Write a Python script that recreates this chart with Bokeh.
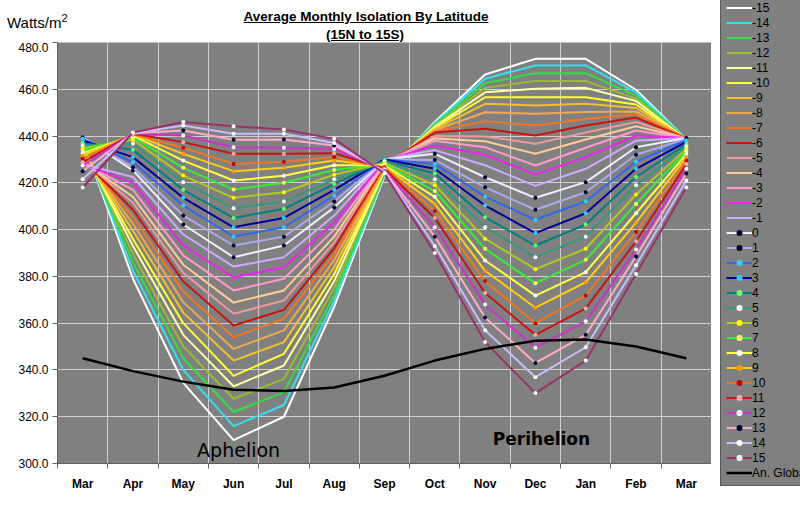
from bokeh.plotting import figure
from bokeh.models import Legend, LegendItem, FixedTicker, Label, Range1d, NumeralTickFormatter, Div
from bokeh.layouts import row, column
from bokeh.embed import file_html
from bokeh.resources import INLINE

months = ["Mar", "Apr", "May", "Jun", "Jul", "Aug", "Sep", "Oct", "Nov", "Dec", "Jan", "Feb", "Mar"]
y_ticks = [300, 320, 340, 360, 380, 400, 420, 440, 460, 480]

# southern latitudes (negative)
s15 = [438.5, 379.0, 334.5, 310.0, 320.0, 367.0, 423.0, 446.0, 466.3, 473.0, 473.0, 459.8, 438.5]
s14 = [438.0, 382.5, 340.0, 316.0, 325.0, 369.5, 423.5, 445.5, 464.5, 470.2, 470.2, 458.7, 438.5]
s13 = [437.0, 386.0, 345.0, 322.0, 330.5, 372.0, 424.0, 445.0, 462.6, 466.9, 466.9, 457.3, 438.5]
s12 = [436.0, 389.5, 350.0, 327.7, 336.2, 375.0, 424.5, 444.5, 460.6, 463.5, 463.5, 456.0, 438.5]
s11 = [435.0, 393.0, 355.0, 333.0, 341.9, 378.0, 425.0, 444.0, 458.7, 460.2, 460.6, 455.0, 438.5]
s10 = [434.0, 396.0, 360.0, 337.5, 346.9, 381.0, 425.5, 443.5, 456.6, 456.6, 456.6, 453.5, 438.5]
s9 = [433.0, 399.5, 364.5, 344.0, 351.9, 384.0, 426.0, 443.0, 453.8, 453.1, 453.8, 452.0, 438.8]
s8 = [432.0, 402.5, 369.0, 349.0, 356.9, 387.0, 426.5, 442.5, 450.2, 449.5, 450.3, 450.5, 438.8]
s7 = [431.0, 405.5, 373.5, 354.0, 361.9, 389.5, 427.0, 442.0, 446.3, 444.5, 447.3, 449.3, 439.0]
s6 = [430.0, 408.5, 377.8, 359.0, 365.7, 392.0, 427.5, 441.5, 443.1, 440.2, 444.5, 447.9, 439.0]
s5 = [429.5, 411.5, 381.5, 364.0, 369.7, 394.5, 428.0, 440.0, 439.8, 436.7, 441.5, 446.0, 439.0]
s4 = [429.0, 414.0, 385.0, 368.8, 374.0, 397.0, 428.5, 439.0, 437.8, 432.4, 438.5, 444.2, 439.0]
s3 = [428.5, 417.0, 389.0, 374.0, 379.0, 400.0, 429.0, 438.0, 435.2, 427.4, 435.0, 442.4, 439.0]
s2 = [428.0, 420.0, 393.2, 379.6, 384.0, 403.0, 429.5, 436.0, 432.0, 423.6, 431.0, 440.2, 439.2]
s1 = [428.0, 422.5, 397.9, 384.2, 388.2, 406.0, 430.0, 434.0, 427.5, 418.7, 426.0, 438.0, 439.2]
# equator and northern latitudes
eq0 = [439.5, 425.3, 402.2, 388.2, 393.2, 409.5, 430.0, 432.4, 422.4, 413.6, 420.3, 435.2, 439.2]
n1 = [439.2, 426.7, 406.0, 393.2, 397.0, 412.0, 430.0, 429.8, 418.1, 408.5, 416.0, 432.0, 438.8]
n2 = [438.8, 428.8, 410.3, 397.0, 401.0, 414.5, 430.0, 428.1, 414.1, 404.2, 412.1, 429.0, 438.2]
n3 = [438.1, 431.0, 413.6, 401.0, 405.0, 417.0, 430.0, 426.0, 410.3, 398.5, 407.0, 426.0, 437.5]
n4 = [436.9, 434.1, 417.0, 405.0, 408.9, 419.5, 429.5, 424.0, 405.3, 393.2, 402.2, 422.5, 436.5]
n5 = [436.0, 436.7, 420.3, 409.1, 412.0, 421.5, 429.0, 421.5, 401.0, 388.2, 397.0, 419.0, 435.5]
n6 = [434.8, 438.4, 423.1, 413.6, 416.0, 423.5, 428.5, 419.0, 396.1, 383.1, 391.8, 415.0, 434.5]
n7 = [433.8, 439.5, 426.4, 417.1, 420.0, 425.5, 428.0, 416.5, 391.8, 377.1, 387.1, 411.0, 433.5]
n8 = [432.7, 440.2, 429.5, 421.0, 423.0, 427.5, 427.5, 414.0, 386.8, 371.8, 381.8, 407.0, 432.3]
n9 = [431.7, 440.6, 432.4, 425.0, 426.4, 429.5, 427.0, 411.0, 382.4, 366.6, 377.5, 403.0, 431.0]
n10 = [430.3, 440.8, 435.0, 428.1, 429.0, 431.0, 426.5, 408.0, 378.0, 360.0, 371.8, 399.0, 429.5]
n11 = [428.8, 441.0, 437.4, 432.4, 432.4, 432.7, 426.0, 405.0, 372.9, 355.0, 366.3, 395.0, 428.0]
n12 = [427.4, 441.0, 440.2, 435.2, 435.0, 434.5, 425.5, 401.0, 368.0, 349.5, 360.8, 391.5, 426.0]
n13 = [425.0, 441.2, 442.4, 438.4, 438.5, 436.0, 425.0, 397.0, 362.4, 343.0, 355.0, 388.5, 424.0]
n14 = [421.5, 441.3, 444.5, 441.0, 441.0, 437.0, 424.5, 393.0, 357.0, 336.9, 349.7, 384.8, 421.0]
n15 = [418.0, 441.5, 446.0, 444.2, 442.8, 438.8, 424.0, 390.0, 351.9, 330.1, 344.0, 381.0, 418.0]
global_avg = [345.0, 339.5, 335.0, 331.5, 331.0, 332.5, 337.5, 344.0, 349.0, 352.5, 353.0, 350.0, 345.0]

labels = [str(v) for v in range(-15, 16)]
series = [s15, s14, s13, s12, s11, s10, s9, s8, s7, s6, s5, s4, s3, s2, s1,
          eq0, n1, n2, n3, n4, n5, n6, n7, n8, n9, n10, n11, n12, n13, n14, n15]

line_colors = ["#ffffff", "#33e0f0", "#33dd44", "#99bb33", "#ffffaa", "#ffff33", "#f0c030",
               "#f0a850", "#ee7722", "#cc1111", "#ee9999", "#ffcc99", "#ff99cc", "#ee22ee", "#ccaaff",
               "#eeeeff", "#aaaaee", "#3366ee", "#000099", "#008080", "#339977", "#aacc22", "#33ee33",
               "#ffff44", "#ffcc11", "#ee7722", "#cc1111", "#cc33cc", "#ffaacc", "#ccbbff", "#993366"]
marker_colors = [None] * 15 + ["#000033", "#000033", "#33ccff", "#33ccff", "#66ff66", "#ffffff",
                               "#ffff00", "#ffff66", "#ffffff", "#ff9900", "#cc0000", "#ffaaaa",
                               "#ffffff", "#000033", "#ffffff", "#ffffff"]

x = list(range(len(months)))
FONT = "Liberation Sans"

# ---------------- main chart ----------------
p = figure(width=711, height=472, output_backend="svg", toolbar_location=None,
           x_range=Range1d(-0.5, len(months) - 0.5), y_range=Range1d(300, 480),
           min_border_left=57, min_border_right=0, min_border_top=0, min_border_bottom=51)
p.background_fill_color = "#808080"
p.border_fill_color = "white"
p.outline_line_color = None

for vals, lc, mc in zip(series, line_colors, marker_colors):
    p.line(x, vals, line_color=lc, line_width=2)
    if mc is not None:
        p.scatter(x, vals, size=4, marker="circle", fill_color=mc, line_color=None)
p.line(x, global_avg, line_color="black", line_width=2.5)

p.yaxis.ticker = FixedTicker(ticks=y_ticks)
p.yaxis.formatter = NumeralTickFormatter(format="0.0")
p.yaxis.major_label_text_font = FONT
p.yaxis.major_label_text_font_size = "12px"
p.yaxis.major_label_text_color = "black"
p.yaxis.major_tick_out = 5
p.yaxis.major_tick_in = 0
p.yaxis.minor_tick_line_color = None
p.yaxis.axis_line_color = "#606060"
p.yaxis.major_tick_line_color = "#606060"
p.yaxis.major_label_standoff = 4

p.xaxis.ticker = FixedTicker(ticks=x, minor_ticks=[i - 0.5 for i in range(len(months) + 1)])
p.xaxis.major_label_overrides = {i: m for i, m in zip(x, months)}
p.xaxis.major_tick_line_color = None
p.xaxis.major_tick_out = 6
p.xaxis.minor_tick_out = 5
p.xaxis.minor_tick_in = 0
p.xaxis.minor_tick_line_color = "#606060"
p.xaxis.axis_line_color = "#606060"
p.xaxis.major_label_text_font = FONT
p.xaxis.major_label_text_font_size = "12px"
p.xaxis.major_label_text_font_style = "bold"
p.xaxis.major_label_text_color = "black"
p.xaxis.major_label_standoff = 7

p.ygrid.ticker = FixedTicker(ticks=y_ticks)
p.ygrid.grid_line_color = "#d0d0d0"
p.xgrid.grid_line_color = None
p.xgrid.minor_grid_line_color = "#d0d0d0"

p.add_layout(Label(x=3.1, y=305.6, text="Aphelion", text_align="center",
                   text_baseline="middle", text_font="DejaVu Sans", text_font_size="19px",
                   text_color="black"))
p.add_layout(Label(x=9.12, y=310.3, text="Perihelion", text_align="center",
                   text_baseline="middle", text_font="DejaVu Sans", text_font_size="17px",
                   text_font_style="bold", text_color="black"))

# ---------------- header ----------------
header_html = (
    '<div style="position:relative;width:711px;height:42px;font-family:\'Liberation Sans\',Arial,sans-serif;color:black;">'
    '<div style="position:absolute;left:7px;top:14px;font-size:15px;line-height:17px;white-space:nowrap;">'
    'Watts/m<span style="position:relative;top:-6px;font-size:11px;">2</span></div>'
    '<div style="position:absolute;left:166px;width:400px;top:9px;text-align:center;font-size:13.5px;'
    'line-height:15px;font-weight:bold;text-decoration:underline;white-space:nowrap;">'
    'Average Monthly Isolation By Latitude</div>'
    '<div style="position:absolute;left:165px;width:400px;top:27px;text-align:center;font-size:13.5px;'
    'line-height:15px;font-weight:bold;text-decoration:underline;white-space:nowrap;">(15N to 15S)</div>'
    '</div>'
)
header = Div(text=header_html, width=711, height=42, margin=(0, 0, 0, 0))

# ---------------- legend panel ----------------
# legend samples reuse the chart data; this panel's ranges keep them out of view
lp = figure(width=89, height=514, output_backend="svg", toolbar_location=None,
            x_range=Range1d(0, 1), y_range=Range1d(0, 1),
            x_axis_location=None, y_axis_location=None, min_border=0)
lp.outline_line_color = None
lp.background_fill_color = "white"
lp.border_fill_color = "white"
lp.grid.grid_line_color = None

items = []
for lab, vals, lc, mc in zip(labels, series, line_colors, marker_colors):
    rs = [lp.line(x, vals, line_color=lc, line_width=2)]
    if mc is not None:
        rs.append(lp.scatter(x, vals, size=4, marker="circle", fill_color=mc, line_color=None))
    items.append(LegendItem(label=lab, renderers=rs))
items.append(LegendItem(label="An. Global Avg.",
                        renderers=[lp.line(x, global_avg, line_color="black", line_width=2.5)]))

legend = Legend(items=items, location=(9, 28), orientation="vertical",
                glyph_width=26, glyph_height=15, label_height=15, spacing=0, padding=5, margin=0,
                label_standoff=0, label_text_font=FONT, label_text_font_size="12px",
                label_text_color="black",
                background_fill_color="#808080", background_fill_alpha=1.0,
                border_line_color="#303030", border_line_width=1)
lp.add_layout(legend)

layout = row(column(header, p, spacing=0), lp, spacing=0)
open("out.html", "w").write(file_html(layout, INLINE))
